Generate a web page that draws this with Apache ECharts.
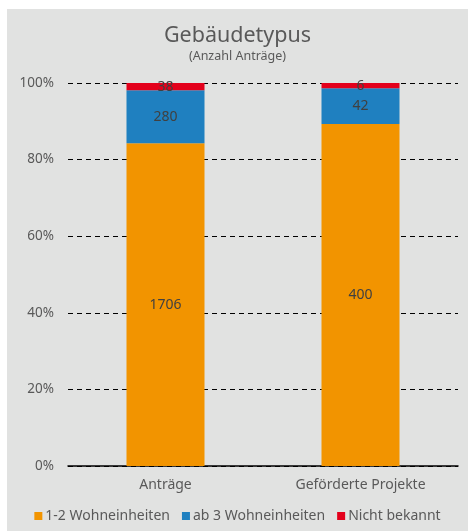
<!DOCTYPE html>
<html><head><meta charset="utf-8">
<script src="https://cdn.jsdelivr.net/npm/echarts@6/dist/echarts.min.js"></script>
<style>
html,body{margin:0;padding:0;background:#fff;width:468px;height:531px;overflow:hidden}
#c{position:absolute;left:7px;top:9px;width:461px;height:522px;background:#e1e2e1}
</style></head>
<body><div id="c"></div>
<script>
const categories = ['Anträge', 'Geförderte Projekte'];
const seriesNames = ['1-2 Wohneinheiten', 'ab 3 Wohneinheiten', 'Nicht bekannt'];
const wohn12 = [1706, 400];
const wohn3 = [280, 42];
const unbekannt = [38, 6];
const yTicks = ['0%', '20%', '40%', '60%', '80%', '100%'];
const colors = ['#f29400', '#1f80c0', '#e3001b'];

const raw = [wohn12, wohn3, unbekannt];
const totals = categories.map((_, i) => raw.reduce((s, a) => s + a[i], 0));
const font = 'Noto Sans';
const chart = echarts.init(document.getElementById('c'));
chart.setOption({
  animation: false,
  color: colors,
  textStyle: { fontFamily: font },
  title: [
    { text: 'Gebäudetypus', left: 'center', top: 11, textStyle: { fontFamily: font, fontSize: 21.5, fontWeight: 'normal', color: '#595959' } },
    { text: '(Anzahl Anträge)', left: 'center', top: 36, textStyle: { fontFamily: font, fontSize: 12.5, fontWeight: 'normal', color: '#595959' } }
  ],
  legend: {
    bottom: 3, left: 'center', itemWidth: 8, itemHeight: 8, itemGap: 12, icon: 'rect',
    textStyle: { fontFamily: font, fontSize: 14, color: '#595959', padding: [0, 0, 0, -2] },
    data: seriesNames
  },
  grid: { left: 61, right: 10, top: 74, bottom: 65, containLabel: false },
  xAxis: {
    type: 'category', data: categories,
    axisLine: { lineStyle: { color: '#000', width: 1.5 } },
    axisTick: { show: false },
    axisLabel: { fontFamily: font, fontSize: 14, color: '#595959', margin: 12 }
  },
  yAxis: {
    type: 'value', min: 0, max: 100, interval: 20,
    axisLine: { show: false }, axisTick: { show: false },
    axisLabel: { fontFamily: font, fontSize: 13.5, color: '#595959', margin: 14,
      formatter: (v) => yTicks[Math.round(v / 20)] },
    splitLine: { lineStyle: { color: '#000', type: [5, 4], width: 1 } }
  },
  series: raw.map((arr, k) => ({
    name: seriesNames[k], type: 'bar', stack: 'total', barWidth: '40%',
    data: arr.map((v, i) => v / totals[i] * 100),
    label: { show: true, position: 'inside', fontFamily: font, fontSize: 14, color: '#404040',
      formatter: (p) => raw[k][p.dataIndex] }
  }))
});
</script></body></html>
